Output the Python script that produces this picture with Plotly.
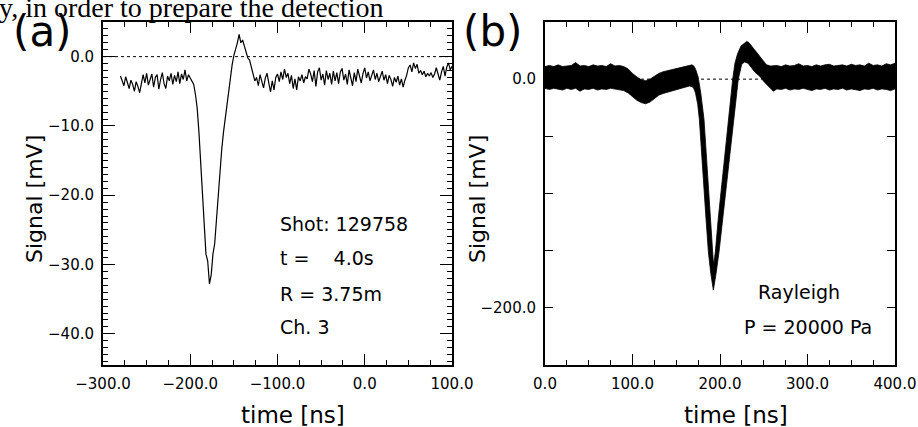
import plotly.graph_objects as go

# ---------------- data: panel (a) ----------------
T_START_A = -280.0   # first sample time [ns]
T_STEP_A = 2.0       # sampling interval [ns]
signal_a = [
    # -280 .. -198
    -2.8, -3.5, -4.2, -2.9, -3.8, -4.6, -3.4, -4.0, -5.0, -3.6,
    -4.3, -5.2, -3.9, -2.6, -3.8, -2.4, -4.1, -3.2, -2.5, -4.4,
    -3.0, -2.6, -4.7, -3.3, -2.3, -3.9, -4.6, -2.8, -3.5, -2.4,
    -4.0, -2.7, -3.6, -2.2, -3.9, -2.5, -3.3, -1.9, -3.5, -2.6,
    -3.1, -3.4,
    # -196 .. -126 (pulse)
    -4.0, -5.5, -7.5, -11.0, -15.5, -20.5, -25.0, -28.5, -29.5, -32.8,
    -31.5, -28.5, -27.0, -23.5, -20.0, -16.5, -13.5, -11.0, -9.0, -7.0,
    -4.8, -3.0, -1.2, 0.2, 1.0, 2.0, 3.2, 2.0, 2.4, 1.5,
    1.0, -0.2, -0.5, -1.5, -2.5, -3.5,
    # -124 .. 100
    -3.0, -4.2, -2.6, -3.4, -4.5, -3.1, -2.4, -3.8, -5.1, -3.5,
    -4.8, -3.0, -2.5, -3.6, -2.2, -3.3, -1.8, -3.0, -2.4, -3.9,
    -2.7, -4.6, -3.2, -4.8, -2.9, -3.5, -2.6, -3.8, -2.9, -3.2,
    -1.8, -2.5, -3.6, -2.0, -4.3, -2.2, -1.6, -3.4, -2.5, -4.1,
    -2.0, -3.3, -2.4, -4.0, -2.1, -3.5, -2.3, -3.9, -2.2, -1.7,
    -3.4, -2.5, -4.0, -1.9, -3.2, -4.2, -2.3, -3.6, -1.8, -2.9,
    -3.8, -2.4, -1.6, -3.1, -2.2, -3.5, -2.6, -1.9, -3.3, -2.4,
    -3.6, -2.8, -2.1, -3.4, -2.6, -3.9, -2.7, -3.3, -4.3, -3.0,
    -3.7, -2.8, -4.1, -3.2, -4.4, -3.4, -2.7, -1.6, -1.2, -2.2,
    -0.9, -1.7, -1.1, -2.4, -2.0, -2.6, -2.1, -2.9, -2.4, -2.8,
    -2.3, -3.0, -2.5, -1.6, -2.7, -3.4, -2.2, -1.4, -2.8, -1.5,
    -0.9, -1.9, -1.4,
]
time_a = [T_START_A + T_STEP_A * i for i in range(len(signal_a))]

# ---------------- data: panel (b) (envelope of the fast oscillation) ----------------
upper_t = [0, 5, 10, 15, 20, 25, 30, 35, 40, 45, 50, 55, 60, 65, 70, 75, 80, 85, 90,
           95, 100, 105, 110, 115, 120, 125, 130, 135, 140, 145, 150, 155, 160, 165, 168,
           170, 172, 175, 178, 181.7, 184, 186.7, 189, 191.2, 192.2, 193.1, 194, 194.7,
           198, 201.9, 205.5, 209.5, 212, 214.5, 217.1, 220, 224, 228, 230.5, 233, 237,
           242, 247, 253, 258, 265, 270, 275, 280, 285, 290, 295, 300, 305, 310, 315, 320,
           325, 330, 335, 340, 345, 350, 355, 360, 365, 370, 375, 380, 385, 390, 395, 400]
upper_v = [11, 12, 11, 12.5, 11, 11.5, 12, 14.5, 11.5, 12, 11, 12.5, 11.5, 12, 11, 13.5, 11.5, 12, 11,
           9, 5, 2, -0.5, -1.3, 0, 2.5, 5, 6.5, 7.5, 8.5, 9.5, 10.5, 11.3, 12, 12.5,
           11.5, 9, 2, -12, -35, -62, -93, -122, -151, -158, -161, -157, -151,
           -122, -93, -64, -35, -17, 0, 14, 22, 29, 32, 33, 32, 28,
           24, 19, 12.6, 11.5, 12, 11, 12.5, 11.5, 12, 13.5, 11.5, 12, 11, 12.5, 11.5, 12.5,
           13, 11.5, 12, 12.5, 11.5, 13, 12, 12.5, 11.5, 14, 12, 12.5, 11.5, 13.5, 12.5, 14]
lower_t = [0, 5, 10, 15, 20, 25, 30, 35, 40, 45, 50, 55, 60, 65, 70, 75, 80, 85, 90,
           95, 100, 105, 110, 115, 120, 125, 130, 135, 140, 145, 150, 155, 160, 165, 168,
           170, 172, 174.5, 176.4, 179, 181.7, 184, 186.7, 189.5, 192.4, 195.5, 198.9,
           203, 207.6, 212, 216, 218.5, 220.9, 224.8, 228, 232, 236, 240, 245.7, 250, 257,
           261, 265, 270, 275, 280, 285, 290, 295, 300, 305, 310, 315, 320, 325, 330, 335,
           340, 345, 350, 355, 360, 365, 370, 375, 380, 385, 390, 395, 400]
lower_v = [-8, -9, -8, -8.5, -9.5, -8, -9, -8, -10.5, -8.5, -9, -8, -9.5, -8.5, -9, -8, -9, -9.5, -10,
           -12, -15.5, -18.5, -20.5, -21.5, -20, -17, -14, -12.5, -11, -10, -9, -8, -7, -6, -6.5,
           -8, -12, -22, -35, -64, -93, -122, -151, -170, -184.5, -170, -151,
           -122, -93, -64, -35, -17, 0, 13, 15, 14, 10, 6, 2.4, -2, -7.7,
           -10.6, -8.5, -9, -8, -9.5, -8.5, -9, -8, -9, -10, -8.5, -9, -8, -9.5, -8.5, -9,
           -8, -9.5, -8.5, -9, -10, -8.5, -9, -8, -9.5, -8.5, -9, -10, -8.5]

# ---------------- axes / labels ----------------
xa_ticks = [-300, -200, -100, 0, 100]
xa_text = ["\u2212300.0", "\u2212200.0", "\u2212100.0", "0.0", "100.0"]
ya_ticks = [0, -10, -20, -30, -40]
ya_text = ["0.0", "\u221210.0", "\u221220.0", "\u221230.0", "\u221240.0"]
xb_ticks = [0, 100, 200, 300, 400]
xb_text = ["0.0", "100.0", "200.0", "300.0", "400.0"]
yb_ticks = [50, 0, -50, -100, -150, -200, -250]
yb_text = ["", "0.0", "", "", "", "\u2212200.0", ""]
info_a = ["Shot: 129758", "t =\u00a0\u00a0\u00a0\u00a04.0s", "R = 3.75m", "Ch. 3"]
info_b = ["Rayleigh", "P = 20000 Pa"]

W, H = 918, 427
FONT = "DejaVu Sans"


def px(x):
    return x / W


def py(y):
    return 1 - y / H


fig = go.Figure()
fig.add_trace(go.Scatter(x=time_a, y=signal_a, mode="lines",
                         line=dict(color="black", width=1.2),
                         xaxis="x", yaxis="y", showlegend=False))
fig.add_trace(go.Scatter(x=upper_t + lower_t[::-1], y=upper_v + lower_v[::-1],
                         mode="lines", fill="toself", fillcolor="black",
                         line=dict(color="black", width=0.8),
                         xaxis="x2", yaxis="y2", showlegend=False))

tickfont = dict(family=FONT, size=15, color="black")
common = dict(showline=True, linecolor="black", linewidth=2, mirror="ticks",
              ticks="inside", tickcolor="black", tickwidth=1, showgrid=False,
              zeroline=False, tickfont=tickfont, tickmode="array", ticklabelstandoff=4,
              automargin=False)

ydom = [py(365), py(22)]
fig.update_layout(
    width=W, height=H, margin=dict(l=0, r=0, t=0, b=0, pad=0, autoexpand=False),
    paper_bgcolor="white", plot_bgcolor="white",
    xaxis=dict(domain=[px(103), px(452)], range=[-300, 100], anchor="y",
               tickvals=xa_ticks, ticktext=xa_text, ticklen=11,
               minor=dict(ticks="inside", ticklen=5, tickcolor="black", tickmode="linear",
                          tick0=0, dtick=25, showgrid=False), **common),
    yaxis=dict(domain=ydom, range=[-44.5, 5], anchor="x",
               tickvals=ya_ticks, ticktext=ya_text, ticklen=12,
               minor=dict(ticks="inside", ticklen=5, tickcolor="black", tickmode="linear",
                          tick0=0, dtick=1, showgrid=False), **common),
    xaxis2=dict(domain=[px(545), px(895)], range=[0, 400], anchor="y2",
                tickvals=xb_ticks, ticktext=xb_text, ticklen=11,
                minor=dict(ticks="inside", ticklen=5, tickcolor="black", tickmode="linear",
                           tick0=0, dtick=25, showgrid=False), **common),
    yaxis2=dict(domain=ydom, range=[-250, 50], anchor="x2",
                tickvals=yb_ticks, ticktext=yb_text, ticklen=8, **common),
)

# dotted zero lines
fig.add_shape(type="line", xref="x", yref="y", x0=-300, x1=100, y0=0, y1=0,
              line=dict(color="black", width=1, dash="dot"), layer="below")
fig.add_shape(type="line", xref="x2", yref="y2", x0=0, x1=400, y0=0, y1=0,
              line=dict(color="black", width=1, dash="dot"), layer="below")

ann = []


def text(x, y, s, size, xanchor="center", yanchor="middle", angle=0, family=FONT):
    ann.append(dict(x=px(x), y=py(y), xref="paper", yref="paper", text=s, showarrow=False,
                    xanchor=xanchor, yanchor=yanchor, textangle=angle,
                    font=dict(family=family, size=size, color="black")))


# clipped line of the surrounding document
text(-3, -10, "y, in order to prepare the detection", 28, xanchor="left", yanchor="top",
     family="Liberation Serif")
# panel labels
text(42, 32, "(a)", 42)
text(492, 32, "(b)", 42)
# axis titles
text(293, 415, "time [ns]", 23)
text(736, 415, "time [ns]", 23)
text(34, 199, "Signal [mV]", 22, angle=-90)
text(477, 199, "Signal [mV]", 22, angle=-90)
# info text
for s, yy in zip(info_a, [224, 258, 294, 327]):
    text(278, yy, s, 19, xanchor="left")
text(756, 292, info_b[0], 19, xanchor="left")
text(742, 327, info_b[1], 19, xanchor="left")

fig.update_layout(annotations=ann)
fig.write_html("out.html", config={"displayModeBar": False},
               post_script="document.body.style.margin='0';document.body.style.overflow='hidden';")
